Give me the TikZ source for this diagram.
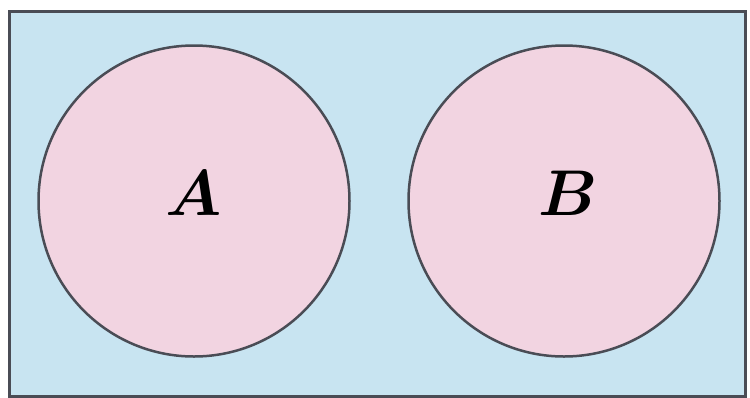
\documentclass[tikz,border=0pt]{standalone}
\usepackage{amsmath}
\definecolor{bgblue}{HTML}{C8E4F1}
\definecolor{setpink}{HTML}{F2D4E1}
\definecolor{edgegray}{HTML}{4A4C55}
\begin{document}
\begin{tikzpicture}[x=1pt,y=-1pt,
  setcircle/.style={circle,draw=edgegray,line width=2.5pt,fill=setpink,minimum size=311pt,inner sep=0pt},
  setlabel/.style={font=\Huge}]
\useasboundingbox (0,0) rectangle (750,397);
\fill[white] (0,0) rectangle (750,397);
\node[draw=edgegray,line width=2.5pt,fill=bgblue,minimum width=736pt,minimum height=385pt,inner sep=0pt,anchor=north west] (U) at (8,10) {};
\node[setcircle] (A) at (194,201) {};
\node[setcircle] (B) at (564,201) {};
\node[setlabel] (la) at (194,193) {\scalebox{2.6}{$\boldsymbol{A}$}};
\node[setlabel] (lb) at (568,193) {\scalebox{2.6}{$\boldsymbol{B}$}};
\end{tikzpicture}
\end{document}
